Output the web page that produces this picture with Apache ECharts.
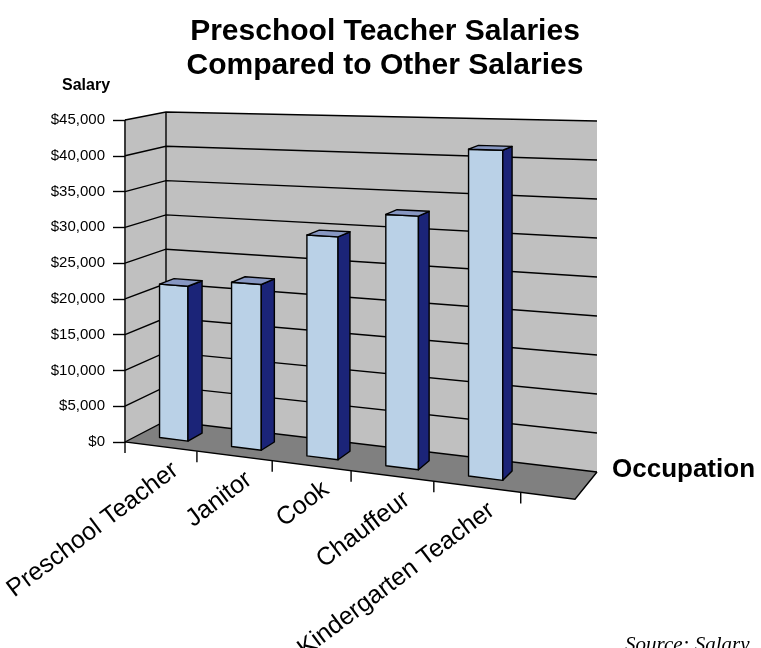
<!DOCTYPE html>
<html><head><meta charset="utf-8">
<script src="https://cdn.jsdelivr.net/npm/echarts@6/dist/echarts.min.js"></script>
<style>html,body{margin:0;padding:0;background:#fff}#c{width:761px;height:648px}</style>
</head><body><div id="c"></div>
<script>
// ---- data ----
const categories = ['Preschool Teacher', 'Janitor', 'Cook', 'Chauffeur', 'Kindergarten Teacher'];
const salaries = [21600, 22600, 29700, 33000, 41900];
const yTicks = [0, 5000, 10000, 15000, 20000, 25000, 30000, 35000, 40000, 45000];
const titleLines = ['Preschool Teacher Salaries', 'Compared to Other Salaries'];
const yAxisTitle = 'Salary';
const xAxisTitle = 'Occupation';
const sourceNote = 'Source: Salary';

// ---- layout (perspective frame) ----
const GRID = {left: 125, top: 120, width: 400, height: 322};
const FLOOR_SLOTS = 5.6;            // floor width measured in category slots
const FLOOR = {fl: [125, 442], fr: [575, 499.3], br: [597, 472], bl: [166, 420.7]};
const WALL_H = {fl: 322, bl: 308.7, br: 351};   // full-scale wall height at three corners
const BAR_D0 = 0.32, BAR_D1 = 0.68, BAR_FRAC = 0.4;
const LABEL_DX = 15, LABEL_DY = 21, LABEL_ROT = 37;

function homography(q) {
  const [x0, y0] = q.fl, [x1, y1] = q.fr, [x2, y2] = q.br, [x3, y3] = q.bl;
  const dx1 = x1 - x2, dx2 = x3 - x2, dx3 = x0 - x1 + x2 - x3;
  const dy1 = y1 - y2, dy2 = y3 - y2, dy3 = y0 - y1 + y2 - y3;
  const den = dx1 * dy2 - dx2 * dy1;
  const g = (dx3 * dy2 - dx2 * dy3) / den, h = (dx1 * dy3 - dx3 * dy1) / den;
  return {a: x1 - x0 + g * x1, b: x3 - x0 + h * x3, c: x0,
          d: y1 - y0 + g * y1, e: y3 - y0 + h * y3, f: y0, g: g, h: h};
}
const H = homography(FLOOR);
const K = WALL_H.fl;
const HD = K / WALL_H.bl - 1;               // depth term of height scale
const GU = K / WALL_H.br - 1 - HD;          // width term of height scale
function project(u, v, dep) {
  const w = H.g * u + H.h * dep + 1;
  const ws = 1 + GU * u + HD * dep;
  return [(H.a * u + H.b * dep + H.c) / w, (H.d * u + H.e * dep + H.f) / w - K * v / ws];
}
function toU(px) { return (px - GRID.left) / GRID.width * categories.length / FLOOR_SLOTS; }
function toV(py) { return (GRID.top + GRID.height - py) / GRID.height; }

const LINE = {stroke: '#000', lineWidth: 1.4, fill: null};

function renderFrame(params, api) {
  const P = project;
  const children = [];
  const poly = (pts, fill) => ({type: 'polygon', shape: {points: pts}, style: {fill: fill, stroke: null}});
  children.push(poly([P(0,0,0), P(0,0,1), P(0,1,1), P(0,1,0)], '#C0C0C0'));
  children.push(poly([P(0,0,1), P(1,0,1), P(1,1,1), P(0,1,1)], '#C0C0C0'));
  children.push(poly([P(0,0,0), P(1,0,0), P(1,0,1), P(0,0,1)], '#808080'));
  yTicks.forEach(t => {
    const v = toV(api.coord([0, t])[1]);
    children.push({type: 'polyline', shape: {points: [P(0,v,0), P(0,v,1), P(1,v,1)]}, style: LINE});
  });
  children.push({type: 'polyline', shape: {points: [P(0,0,1), P(0,1,1)]}, style: LINE});
  children.push({type: 'polyline', shape: {points: [P(0,1,0), P(0,0,0), P(1,0,0), P(1,0,1)]}, style: LINE});
  return {type: 'group', children: children};
}

function renderBar(params, api) {
  const i = api.value(0), val = api.value(1);
  const c = api.coord([i, val]);
  const slot = api.size([1, 0])[0];
  const uc = toU(c[0]);
  const uw = toU(c[0] + slot * BAR_FRAC / 2) - uc;
  const v = toV(c[1]);
  const u0 = uc - uw, u1 = uc + uw;
  const P = project;
  const st = (fill) => ({fill: fill, stroke: '#000', lineWidth: 1.4, lineJoin: 'round'});
  const children = [
    {type: 'polygon', shape: {points: [P(u0,0,BAR_D0), P(u1,0,BAR_D0), P(u1,v,BAR_D0), P(u0,v,BAR_D0)]}, style: st('#BAD1E7')},
    {type: 'polygon', shape: {points: [P(u1,0,BAR_D0), P(u1,0,BAR_D1), P(u1,v,BAR_D1), P(u1,v,BAR_D0)]}, style: st('#1B2478')},
    {type: 'polygon', shape: {points: [P(u0,v,BAR_D0), P(u1,v,BAR_D0), P(u1,v,BAR_D1), P(u0,v,BAR_D1)]}, style: st('#8797C2')}
  ];
  const ticks = [toU(c[0] - slot / 2)];
  if (i === categories.length - 1) ticks.push(toU(c[0] + slot / 2));
  ticks.forEach(ub => {
    const p = P(ub, 0, 0);
    children.push({type: 'line', shape: {x1: p[0], y1: p[1], x2: p[0], y2: p[1] + 11}, style: {stroke: '#000', lineWidth: 1.4}});
  });
  const a = P(uc, 0, 0);
  children.push({type: 'text', x: a[0] + LABEL_DX, y: a[1] + LABEL_DY, rotation: LABEL_ROT * Math.PI / 180,
    style: {text: categories[i], align: 'right', verticalAlign: 'middle', fill: '#000',
            fontSize: 25, fontFamily: 'Liberation Sans'}});
  return {type: 'group', children: children};
}

const chart = echarts.init(document.getElementById('c'), null, {renderer: 'canvas'});
chart.setOption({
  animation: false,
  backgroundColor: '#fff',
  grid: {left: GRID.left, top: GRID.top, width: GRID.width, height: GRID.height, containLabel: false},
  xAxis: {type: 'category', data: categories, show: false},
  yAxis: {type: 'value', min: yTicks[0], max: yTicks[yTicks.length - 1], interval: yTicks[1] - yTicks[0],
    axisLine: {show: true, lineStyle: {color: '#000', width: 1.4}},
    axisTick: {show: true, length: 12, lineStyle: {color: '#000', width: 1.4}},
    splitLine: {show: false},
    axisLabel: {color: '#000', fontSize: 15, fontFamily: 'Liberation Sans', margin: 20,
      formatter: v => '$' + v.toLocaleString('en-US')}},
  graphic: [
    {type: 'text', x: 385, y: 32, style: {text: titleLines[0], align: 'center', verticalAlign: 'middle', fontSize: 30,
      fontWeight: 'bold', fontFamily: 'Liberation Sans', fill: '#000'}},
    {type: 'text', x: 385, y: 66, style: {text: titleLines[1], align: 'center', verticalAlign: 'middle', fontSize: 30,
      fontWeight: 'bold', fontFamily: 'Liberation Sans', fill: '#000'}},
    {type: 'text', x: 62, y: 86, style: {text: yAxisTitle, verticalAlign: 'middle', fontSize: 16, fontWeight: 'bold', fontFamily: 'Liberation Sans', fill: '#000'}},
    {type: 'text', x: 612, y: 470, style: {text: xAxisTitle, verticalAlign: 'middle', fontSize: 26, fontWeight: 'bold', fontFamily: 'Liberation Sans', fill: '#000'}},
    {type: 'text', x: 625, y: 656, style: {text: sourceNote, verticalAlign: 'bottom', fontSize: 21, fontStyle: 'italic', fontFamily: 'Liberation Serif', fill: '#000'}}
  ],
  series: [
    {type: 'custom', z: 1, clip: false, renderItem: renderFrame, data: [[0, 0]], silent: true},
    {type: 'custom', z: 2, clip: false, renderItem: renderBar, data: salaries.map((s, i) => [i, s])}
  ]
});
</script></body></html>
